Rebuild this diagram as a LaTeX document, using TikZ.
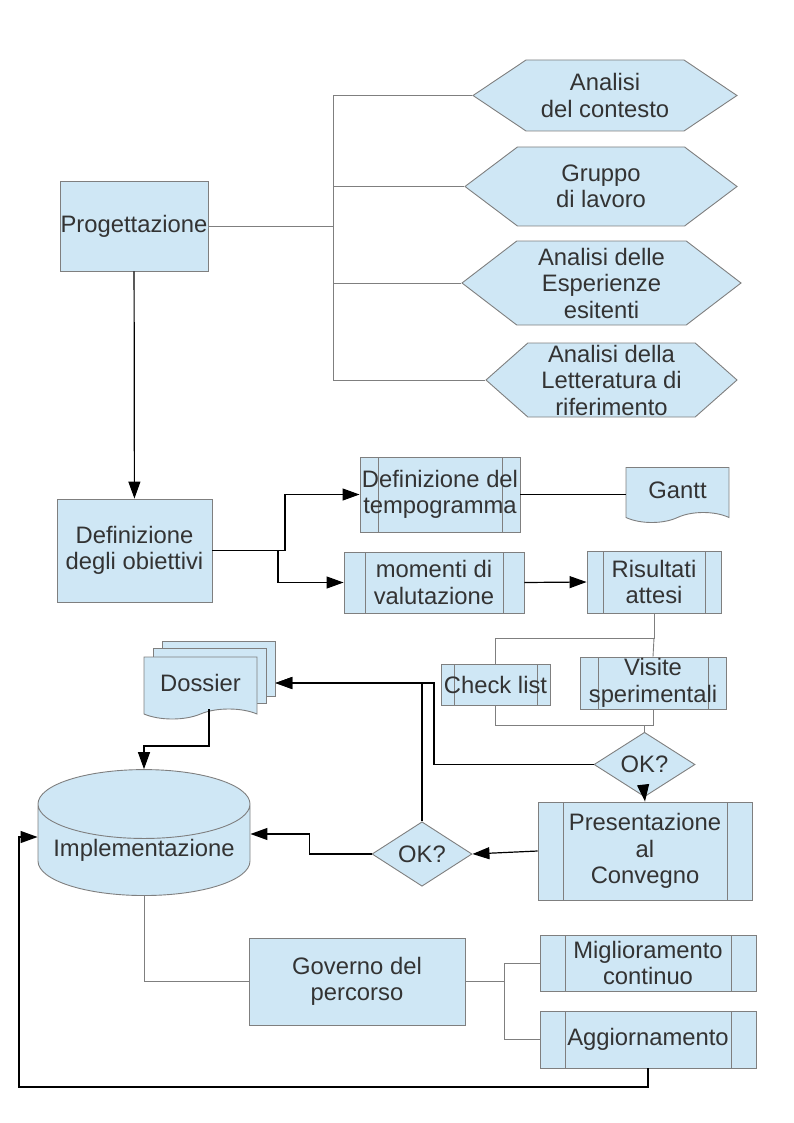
\documentclass[tikz,border=0pt]{standalone}
\usepackage{fontspec}
\setmainfont{Liberation Sans}
\usetikzlibrary{shapes.geometric,shapes.symbols,arrows.meta}
\definecolor{boxfill}{HTML}{CFE7F5}
\definecolor{edgegray}{HTML}{7F7F7F}
\definecolor{inkgray}{HTML}{333333}
\tikzset{
  box/.style={draw=edgegray, fill=boxfill, text=inkgray, align=center, inner sep=0pt,
    line width=0.9pt, font=\fontsize{23.8}{26.5}\selectfont},
  procbox/.style={box, path picture={
    \draw[edgegray, line width=0.9pt]
      ([xshift=#1]path picture bounding box.north west) -- ([xshift=#1]path picture bounding box.south west)
      ([xshift=-#1]path picture bounding box.north east) -- ([xshift=-#1]path picture bounding box.south east);}},
  procbox/.default=18pt,
  hexbox/.style={box, signal, signal to=east and west, signal pointer angle=#1},
  docbox/.style={box, tape, tape bend top=none, tape bend bottom=in and out, tape bend height=10pt},
  okbox/.style={box, diamond, minimum width=101pt, minimum height=37pt},
  wire/.style={edgegray, line width=0.9pt},
  link/.style={black, line width=1.2pt},
  flow/.style={link, -{Triangle[length=17pt,width=12pt]}}
}
\begin{document}
\begin{tikzpicture}[x=1pt, y=-1pt]
\useasboundingbox (0,0) rectangle (794,1123);

\node[box, minimum width=148pt, minimum height=90pt] (proj) at (134,226) {Progettazione};
\node[hexbox=67.6, minimum width=264pt, minimum height=71pt] (hexA) at (605,95.5) {Analisi\\del contesto};
\node[hexbox=74, minimum width=272pt, minimum height=79pt] (hexB) at (601,186.5) {Gruppo\\di lavoro};
\node[hexbox=75, minimum width=279pt, minimum height=84pt] (hexC) at (601.5,283) {Analisi delle\\Esperienze\\esitenti};
\node[hexbox=83, minimum width=251pt, minimum height=74pt] (hexD) at (611.5,380) {Analisi della\\Letteratura di\\riferimento};

\node[box, minimum width=155pt, minimum height=103pt] (defob) at (134.5,550.5) {Definizione\\degli obiettivi};
\node[procbox=18pt, minimum width=160pt, minimum height=75pt] (tempo) at (440,494.5) {Definizione del\\tempogramma};
\node[procbox=21pt, minimum width=180pt, minimum height=61pt] (momenti) at (434,582.5) {momenti di\\valutazione};
\node[docbox, minimum width=103pt, minimum height=55pt] (gantt) at (677.5,490) {Gantt};
\node[procbox=16pt, minimum width=134pt, minimum height=62pt] (risultati) at (654,582) {Risultati\\attesi};
\node[procbox=13pt, minimum width=109pt, minimum height=41pt] (check) at (495.5,684.5) {Check list};
\node[procbox=18pt, minimum width=146pt, minimum height=52pt] (visite) at (653,683) {Visite\\sperimentali};
\node[okbox] (okA) at (644.5,764.5) {OK?};
\node[procbox=25pt, minimum width=214pt, minimum height=98pt] (pres) at (645,851) {Presentazione\\al\\Convegno};
\node[okbox, minimum width=100pt, minimum height=38pt] (okB) at (422,854) {OK?};

\node[box, minimum width=113pt, minimum height=55pt] (dosC) at (218.5,668.5) {};
\node[box, minimum width=113pt, minimum height=55pt] (dosB) at (209.5,675.5) {};
\node[docbox, minimum width=113pt, minimum height=62pt] (dossier) at (200.5,683) {Dossier};
\node[box, cylinder, shape border rotate=90, aspect=0.38, minimum width=212pt, minimum height=124pt] (impl) at (144,850) {Implementazione};

\node[box, minimum width=216pt, minimum height=87pt] (gov) at (357,981.5) {Governo del\\percorso};
\node[procbox=25pt, minimum width=216pt, minimum height=56pt] (migl) at (648,963) {Miglioramento\\continuo};
\node[procbox=25pt, minimum width=216pt, minimum height=57pt] (aggio) at (648,1039.5) {Aggiornamento};

\coordinate (bus) at (333,226);
\coordinate (splitA) at (285,550.5);
\coordinate (splitB) at (278,550.5);
\coordinate (rbus) at (654,638);
\coordinate (cbus) at (653,725);
\coordinate (fbA) at (434,683);
\coordinate (dbus) at (209,746);
\coordinate (gbus) at (504,981.5);
\coordinate (loopA) at (19,1087);

\draw[wire] (proj) -- (bus);
\foreach \h in {hexA,hexB,hexC,hexD}
  \draw[wire] (bus) |- (\h.west);
\draw[flow] (proj) -- (defob);

\draw[flow] (defob.east) -- (splitA) |- (tempo.west);
\draw[flow] (splitB) |- (momenti.west);
\draw[link] (tempo.east) -- (tempo.east -| gantt.west);
\draw[flow] (momenti.east) -- (risultati.west);

\draw[wire] (risultati.south) -- (rbus) -| (check.north);
\draw[wire] (rbus) -- (visite.north);
\draw[wire] (check.south) |- (cbus) -- (visite.south);
\draw[wire] (cbus -| okA.north) -- (okA.north);

\draw[flow] (okA.south) -- (pres.north);
\draw[flow] (okA.west) -| (fbA) -- (dossier -| dosC.east);
\draw[flow] (okB.north) |- (dossier -| dosC.east);
\draw[flow] (pres.west) -- (okB.east);
\draw[flow] (okB.west) -- ++(-62,0) |- ([yshift=16pt]impl.east);
\draw[flow] (dossier.south -| dbus) -- (dbus) -| (impl.north);

\draw[wire] (impl.south) |- (gov.west);
\draw[wire] (gov.east) -- (gbus);
\draw[wire] (gbus) |- (migl.west);
\draw[wire] (gbus) |- (aggio.west);
\draw[flow] (aggio.south) |- (loopA) |- ([yshift=13pt]impl.west);
\end{tikzpicture}
\end{document}
